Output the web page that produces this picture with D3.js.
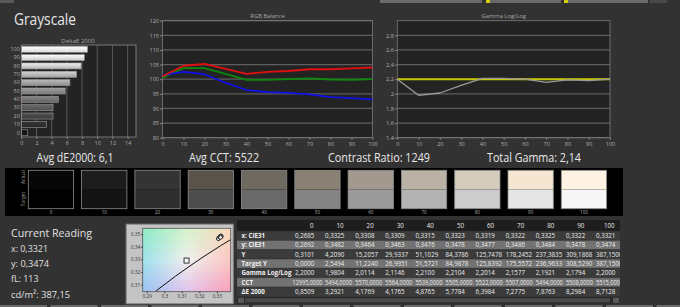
<!DOCTYPE html>
<html><head><meta charset="utf-8">
<script src="https://cdn.jsdelivr.net/npm/d3@7"></script>
<style>
html,body{margin:0;padding:0;background:#333;overflow:hidden}
svg{display:block}
text{font-family:"Open Sans","Noto Sans",sans-serif}
</style></head><body>
<svg id="c" width="680" height="307"></svg>
<script>
// ---------- data ----------
const stimulus = [0,10,20,30,40,50,60,70,80,90,100];
const deltaE = [0.8509,3.2921,4.1769,4.1765,4.8765,5.7784,6.3984,7.2775,7.8763,8.2984,8.7128];
const rgbRed   = [101.0,104.6,105.2,103.5,101.8,102.5,102.8,103.4,103.4,103.7,104.0];
const rgbGreen = [100.5,103.8,103.8,101.8,99.8,99.8,100.0,100.3,99.9,99.8,100.0];
const rgbBlue  = [101.4,102.5,101.7,98.8,96.3,95.6,95.3,94.8,93.9,93.5,93.1];
const gammaMeasured = [2.2000,1.9804,2.0114,2.1146,2.2100,2.2104,2.2014,2.1577,2.1921,2.1794,2.2000];
const gammaTarget = 2.2;
const rgbTicks = [80,85,90,95,100,105,110,115,120];
const gammaTicks = [1.4,1.6,1.8,2,2.2,2.4,2.6,2.8];
const deltaTicks = [0,2,4,6,8,10,12,14];
const summaryLabels = ["Avg dE2000: 6,1","Avg CCT: 5522","Contrast Ratio: 1249","Total Gamma: 2,14"];
const actualSwatch = ["#070707","#1c1c1c","#343434","#595349","#6f6a60","#898174","#a29a8f","#bab2a5","#d4cbbd","#f4e6d0","#fff4e4"];
const targetSwatch = ["#000000","#141414","#2e2e2e","#4d4d4d","#696969","#848484","#9a9a9a","#b3b3b3","#cccccc","#e6e6e6","#f6f6f6"];
const cieX = [0.2685,0.3325,0.3308,0.3309,0.3315,0.3323,0.3319,0.3322,0.3325,0.3322,0.3321];
const cieY = [0.2692,0.3482,0.3464,0.3463,0.3476,0.3478,0.3477,0.3486,0.3484,0.3478,0.3474];
const lumY = [0.3101,4.2090,15.2057,29.9337,51.1029,84.3786,125.7478,178.2452,237.3835,309.1868,387.15];
const targetLumY = [0.0000,2.5494,11.2240,26.9951,51.5721,84.9878,125.8392,175.5572,236.9633,308.5290,387.15];
const cct = [12995,5494,5570,5564,5539,5505,5522,5507,5494,5508,5515];
const rowLabels = ["x: CIE31","y: CIE31","Y","Target Y","Gamma Log/Log","CCT","ΔE 2000"];
const readingTitle = "Current Reading";
const readingLines = ["x: 0,3321","y: 0,3474","fL: 113","cd/m²: 387,15"];
const locusX = [0.2952,0.3064,0.3135,0.3221,0.3325,0.3451];
const locusY = [0.3048,0.3166,0.3236,0.3318,0.3411,0.3516];
const whitePoint = [0.3127,0.3290];
const cieXTicks = [0.29,0.30,0.31,0.32,0.33];
const cieYTicks = [0.31,0.32,0.33,0.34,0.35];

const loc = d3.formatLocale({decimal:",",thousands:".",grouping:[3],currency:["",""]});
const f4 = loc.format(".4f"), fg = loc.format("~g");

const svg = d3.select("#c");
svg.append("rect").attr("width",680).attr("height",307).attr("fill","#323232");

// top strip
[[0,14,"#5a5a5a"],[380,482,"#6a6a6a"],[486,490,"#d0d000"],[490,561,"#6a6a6a"],[564,568,"#d0d000"],[568,648,"#6a6a6a"],[650,667,"#4a4a4a"]]
 .forEach(d=>svg.append("rect").attr("x",d[0]).attr("y",0).attr("width",d[1]-d[0]).attr("height",3).attr("fill",d[2]));

svg.append("text").attr("x",14).attr("y",25).attr("font-size",16.5).attr("fill","#e6e6e6")
  .attr("textLength",62).attr("lengthAdjust","spacingAndGlyphs").text("Grayscale");

function styleAxis(g, fs){
  g.select(".domain").remove();
  g.selectAll(".tick line").attr("stroke","#8a8a8a");
  g.selectAll(".tick text").attr("fill","#b0b0b0").attr("font-size",fs||5.5).attr("font-family","Open Sans, sans-serif");
}

// ---------- DeltaE bar chart ----------
{
  const x = d3.scaleLinear().domain([0,15.1]).range([21.3,136]);
  const y = d3.scaleBand().domain(stimulus.slice().reverse()).range([45,137]).paddingInner(0.28).paddingOuter(0.15);
  const shade = d3.scaleLinear().domain([0,100]).range(["#151515","#f6f6f6"]);
  svg.append("rect").attr("x",21.3).attr("y",45).attr("width",136-21.3).attr("height",92).attr("fill","#232323");
  svg.append("g").selectAll("line").data(deltaTicks.slice(1)).join("line")
    .attr("x1",d=>x(d)).attr("x2",d=>x(d)).attr("y1",45).attr("y2",137).attr("stroke","#666").attr("stroke-width",0.8);
  const defs = svg.append("defs");
  stimulus.forEach(s=>{
    const g = defs.append("linearGradient").attr("id","bg"+s).attr("x1",0).attr("x2",0).attr("y1",0).attr("y2",1);
    const c = d3.color(shade(s));
    g.append("stop").attr("offset","0%").attr("stop-color",c.brighter(0.5));
    g.append("stop").attr("offset","100%").attr("stop-color",c.darker(0.3));
  });
  svg.append("g").selectAll("rect").data(stimulus).join("rect")
    .attr("x",x(0)).attr("y",s=>y(s)).attr("width",(s,i)=>x(deltaE[i])-x(0)).attr("height",y.bandwidth())
    .attr("fill",s=>"url(#bg"+s+")").attr("stroke","#9a9a9a").attr("stroke-width",0.6);
  svg.append("rect").attr("x",21.3).attr("y",45).attr("width",136-21.3).attr("height",92).attr("fill","none").attr("stroke","#8a8a8a").attr("stroke-width",0.8);
  const ax = svg.append("g").attr("transform","translate(0,137)").call(d3.axisBottom(x).tickValues(deltaTicks).tickSize(2).tickPadding(2));
  styleAxis(ax);
  const ay = svg.append("g").attr("transform","translate(21.3,0)").call(d3.axisLeft(y).tickSize(0).tickPadding(1.5));
  styleAxis(ay);
  svg.append("text").attr("x",78).attr("y",43).attr("text-anchor","middle").attr("font-size",6).attr("fill","#a8a8a8").text("DeltaE 2000");
}

// ---------- line charts ----------
function lineChart(o){
  const x = d3.scaleLinear().domain([0,100]).range([o.x0,o.x1]);
  const y = d3.scaleLinear().domain(o.yDomain).range([o.y1,o.y0]);
  svg.append("rect").attr("x",o.x0).attr("y",o.y0).attr("width",o.x1-o.x0).attr("height",o.y1-o.y0).attr("fill","#232323");
  svg.append("g").selectAll("line").data(o.ticks).join("line")
    .attr("x1",o.x0).attr("x2",o.x1).attr("y1",d=>y(d)).attr("y2",d=>y(d)).attr("stroke","#5e5e5e").attr("stroke-width",1.2);
  svg.append("rect").attr("x",o.x0).attr("y",o.y0).attr("width",o.x1-o.x0).attr("height",o.y1-o.y0).attr("fill","none").attr("stroke","#7a7a7a").attr("stroke-width",0.8);
  const ax = svg.append("g").attr("transform",`translate(0,${o.y1})`).call(d3.axisBottom(x).tickValues(stimulus).tickSize(2).tickPadding(2));
  styleAxis(ax);
  const ay = svg.append("g").attr("transform",`translate(${o.x0},0)`).call(d3.axisLeft(y).tickValues(o.ticks).tickSize(2.5).tickPadding(1).tickFormat(o.fmt));
  styleAxis(ay);
  svg.append("text").attr("x",(o.x0+o.x1)/2).attr("y",o.y0-3).attr("text-anchor","middle").attr("font-size",5.8).attr("fill","#a8a8a8").text(o.title);
  const line = d3.line().x((d,i)=>x(stimulus[i])).y(d=>y(d));
  o.series.forEach(s=>{
    svg.append("path").datum(s.values).attr("d",line).attr("fill","none").attr("stroke",s.color).attr("stroke-width",s.w||1.8).attr("stroke-linejoin","round");
  });
}
lineChart({x0:162.5,x1:372.5,y0:20.7,y1:137.7,yDomain:[80,120],ticks:rgbTicks,fmt:d=>d,title:"RGB Balance",
  series:[{values:rgbGreen,color:"#0c8a0c"},{values:rgbBlue,color:"#1010e8"},{values:rgbRed,color:"#e01010"}]});
lineChart({x0:397.3,x1:610,y0:20.7,y1:137.7,yDomain:[1.4,3.0],ticks:gammaTicks,fmt:fg,title:"Gamma Log/Log",
  series:[{values:stimulus.map(()=>gammaTarget),color:"#c8c800",w:2},{values:gammaMeasured,color:"#9a9a9a",w:1.3}]});

// ---------- summary labels ----------
const sumX = [75,224,379,534];
const sumW = [77,70,102,94];
summaryLabels.forEach((t,i)=>svg.append("text").attr("x",sumX[i]).attr("y",162).attr("text-anchor","middle").attr("font-size",12.5).attr("fill","#e8e8e8")
  .attr("textLength",sumW[i]).attr("lengthAdjust","spacingAndGlyphs").text(t));

// ---------- swatches ----------
{
  svg.append("rect").attr("x",5).attr("y",168).attr("width",618).attr("height",48).attr("fill","#000");
  const sx = d3.scaleBand().domain(stimulus).range([28.3,606.6]).paddingInner(0.15).paddingOuter(0);
  const top = 170.3, mid = 189.5, bot = 208.7;
  const g = svg.append("g");
  g.selectAll("rect.a").data(stimulus).join("rect").attr("class","a").attr("x",s=>sx(s)).attr("y",top).attr("width",sx.bandwidth()).attr("height",mid-top).attr("fill",(s,i)=>actualSwatch[i]);
  g.selectAll("rect.t").data(stimulus).join("rect").attr("class","t").attr("x",s=>sx(s)).attr("y",mid).attr("width",sx.bandwidth()).attr("height",bot-mid).attr("fill",(s,i)=>targetSwatch[i]);
  g.selectAll("rect.b").data(stimulus).join("rect").attr("class","b").attr("x",s=>sx(s)).attr("y",top).attr("width",sx.bandwidth()).attr("height",bot-top).attr("fill","none").attr("stroke","#8c8c8c").attr("stroke-width",0.8);
  g.selectAll("text").data(stimulus).join("text").attr("x",s=>sx(s)+sx.bandwidth()/2).attr("y",214).attr("text-anchor","middle").attr("font-size",4.5).attr("fill","#b0b0b0").text(s=>s);
  svg.append("text").attr("transform","translate(25,177) rotate(-90)").attr("text-anchor","middle").attr("font-size",4.8).attr("fill","#a0a0a0").text("Actual");
  svg.append("text").attr("transform","translate(25,199) rotate(-90)").attr("text-anchor","middle").attr("font-size",4.8).attr("fill","#a0a0a0").text("Target");
}

// ---------- current reading ----------
svg.append("text").attr("x",11).attr("y",237).attr("font-size",11.3).attr("fill","#e0e0e0")
  .attr("textLength",81).attr("lengthAdjust","spacingAndGlyphs").text(readingTitle);
const readW = [37,38,27.5,59];
readingLines.forEach((t,i)=>svg.append("text").attr("x",11).attr("y",252+i*15.2).attr("font-size",9.5).attr("fill","#e0e0e0")
  .attr("textLength",readW[i]).attr("lengthAdjust","spacingAndGlyphs").text(t));

// ---------- CIE chart ----------
{
  const px0=142.7, px1=230.7, py0=228.3, py1=291.7;
  svg.append("rect").attr("x",126.2).attr("y",224.2).attr("width",107).attr("height",79.5).attr("fill","#c4c4c4").attr("stroke","#8a8a8a").attr("stroke-width",1);
  const x = d3.scaleLinear().domain([0.2877,0.3379]).range([px0,px1]);
  const y = d3.scaleLinear().domain([0.3043,0.3546]).range([py1,py0]);
  const grid = [["#86f0c4","#d4f8cc","#ffdcb8"],["#9ce4f0","#f4f4f2","#ffc8c4"],["#98c4f8","#e4c4f0","#ff9cb8"]];
  const lerp3 = (row,t)=> t<0.5 ? d3.interpolateRgb(row[0],row[1])(t*2) : d3.interpolateRgb(row[1],row[2])((t-0.5)*2);
  const cells=[]; const cs=2;
  for(let cx=px0; cx<px1; cx+=cs) for(let cy=py0; cy<py1; cy+=cs){
    const u=(cx+cs/2-px0)/(px1-px0), v=(cy+cs/2-py0)/(py1-py0);
    const colT = grid.map(r=>lerp3(r,u));
    cells.push({cx,cy,c: lerp3(colT,v)});
  }
  svg.append("g").selectAll("rect").data(cells).join("rect").attr("x",d=>d.cx).attr("y",d=>d.cy)
    .attr("width",d=>Math.min(cs,px1-d.cx)+0.2).attr("height",d=>Math.min(cs,py1-d.cy)+0.2).attr("fill",d=>d.c);
  svg.append("clipPath").attr("id","cieclip").append("rect").attr("x",px0).attr("y",py0).attr("width",px1-px0).attr("height",py1-py0);
  const cg = svg.append("g").attr("clip-path","url(#cieclip)");
  cg.append("path").datum(locusX).attr("d",d3.line().x(d=>x(d)).y((d,i)=>y(locusY[i]))).attr("fill","none").attr("stroke","#111").attr("stroke-width",1);
  cg.append("rect").attr("x",x(whitePoint[0])-2.5).attr("y",y(whitePoint[1])-2.5).attr("width",5).attr("height",5).attr("fill","#f8f8f8").attr("stroke","#222").attr("stroke-width",0.9);
  cg.selectAll("circle").data(cieX).join("circle").attr("cx",d=>x(d)).attr("cy",(d,i)=>y(cieY[i])).attr("r",1.8)
    .attr("fill","#fff").attr("stroke","#111").attr("stroke-width",0.8);
  svg.append("rect").attr("x",px0).attr("y",py0).attr("width",px1-px0).attr("height",py1-py0).attr("fill","none").attr("stroke","#555").attr("stroke-width",0.8);
  const ax = svg.append("g").attr("transform",`translate(0,${py1})`).call(d3.axisBottom(x).tickValues(cieXTicks).tickSize(1.5).tickPadding(1.5).tickFormat(fg));
  ax.select(".domain").remove(); ax.selectAll("line").attr("stroke","#333"); ax.selectAll("text").attr("fill","#333").attr("font-size",4.8);
  const ay = svg.append("g").attr("transform",`translate(${px0},0)`).call(d3.axisLeft(y).tickValues(cieYTicks).tickSize(1.5).tickPadding(1).tickFormat(fg));
  ay.select(".domain").remove(); ay.selectAll("line").attr("stroke","#333"); ay.selectAll("text").attr("fill","#333").attr("font-size",4.8);
}

// ---------- table ----------
{
  const tx0 = 237, tx1 = 620, headTop = 220, rowH = 9.33, rowTop = 231;
  svg.append("clipPath").attr("id","tclip").append("rect").attr("x",tx0).attr("y",headTop).attr("width",tx1-tx0).attr("height",87);
  const t = svg.append("g").attr("clip-path","url(#tclip)");
  t.append("rect").attr("x",tx0).attr("y",headTop).attr("width",tx1-tx0).attr("height",rowTop-headTop).attr("fill","#1e1e1e");
  const colL = d3.scaleLinear().domain([0,100]).range([295,596]);
  const rows = [cieX.map(f4),cieY.map(f4),lumY.map(f4),targetLumY.map(f4),gammaMeasured.map(f4),cct.map(f4),deltaE.map(f4)];
  const ry = d3.scaleBand().domain(d3.range(rows.length)).range([rowTop,rowTop+rowH*rows.length]);
  t.selectAll("rect.row").data(rows).join("rect").attr("class","row").attr("x",tx0).attr("y",(d,i)=>ry(i)).attr("width",tx1-tx0).attr("height",rowH)
    .attr("fill",(d,i)=>i%2? "#727272":"#3b3b3b");
  t.selectAll("line.sep").data(rows).join("line").attr("class","sep").attr("x1",tx0).attr("x2",tx1).attr("y1",(d,i)=>ry(i)).attr("y2",(d,i)=>ry(i)).attr("stroke","#2a2a2a").attr("stroke-width",0.5);
  t.selectAll("text.h").data(stimulus).join("text").attr("class","h").attr("x",s=>colL(s)+18.5).attr("y",headTop+8).attr("text-anchor","end").attr("font-size",6.2).attr("fill","#e8e8e8").text(s=>s);
  rows.forEach((r,i)=>{
    t.append("text").attr("x",241.5).attr("y",ry(i)+rowH/2+2.2).attr("font-size",6.2).attr("font-weight","bold").attr("fill","#f0f0f0").text(rowLabels[i]);
    const txt = t.selectAll(null).data(r).join("text")
      .attr("x",(d,j)=>colL(stimulus[j]) - (d.length>=10?2.5:0))
      .attr("y",ry(i)+rowH/2+2.2).attr("font-size",6.2).attr("fill","#ececec").text(d=>d);
    txt.filter(d=>d.length>=9).attr("textLength",d=>d.length>=10?30:27).attr("lengthAdjust","spacingAndGlyphs");
  });
  const sbY = rowTop+rowH*rows.length+1;
  t.append("rect").attr("x",tx0).attr("y",sbY).attr("width",tx1-tx0).attr("height",6).attr("fill","#2a2a2a");
  t.append("rect").attr("x",tx0+8).attr("y",sbY+1).attr("width",365).attr("height",4).attr("fill","#4a4a4a");
  t.append("rect").attr("x",tx0+1).attr("y",sbY+0.5).attr("width",6).attr("height",5).attr("fill","#5a5a5a");
  t.append("rect").attr("x",tx1-7).attr("y",sbY+0.5).attr("width",6).attr("height",5).attr("fill","#5a5a5a");
}

// bottom tabs
d3.range(0,680,50.5).forEach(x0=>svg.append("rect").attr("x",x0).attr("y",305).attr("width",47).attr("height",2).attr("fill","#6a6a6a"));
</script>
</body></html>
